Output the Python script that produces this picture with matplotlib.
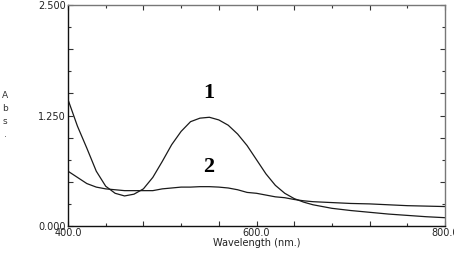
import matplotlib
matplotlib.use("Agg")
import matplotlib.pyplot as plt

wavelength = [400, 410, 420, 430, 440, 450, 460, 470, 480, 490, 500, 510, 520, 530,
              540, 550, 560, 570, 580, 590, 600, 610, 620, 630, 640, 650, 660, 680,
              700, 720, 740, 760, 780, 800]
abs_1 = [1.43, 1.13, 0.88, 0.62, 0.45, 0.37, 0.34, 0.36, 0.42, 0.55, 0.73, 0.92, 1.07, 1.18,
         1.22, 1.23, 1.20, 1.14, 1.04, 0.91, 0.75, 0.59, 0.46, 0.37, 0.31, 0.27, 0.24, 0.20,
         0.175, 0.155, 0.135, 0.12, 0.105, 0.094]
abs_2 = [0.62, 0.55, 0.48, 0.44, 0.42, 0.41, 0.40, 0.40, 0.40, 0.40, 0.42, 0.43, 0.44, 0.44,
         0.445, 0.445, 0.44, 0.43, 0.41, 0.38, 0.37, 0.35, 0.33, 0.32, 0.30, 0.285, 0.275, 0.265,
         0.255, 0.25, 0.24, 0.23, 0.225, 0.22]

x_major = [400, 480, 560, 600, 640, 720, 800]
x_major_labels = ["400.0", "", "", "600.0", "", "", "800.0"]
x_minor = [440, 520, 680, 760]
y_major = [0.0, 0.5, 1.0, 1.25, 1.5, 2.0, 2.5]
y_major_labels = ["0.000", "", "", "1.250", "", "", "2.500"]
y_minor = [0.25, 0.75, 1.75, 2.25]

fig = plt.figure(figsize=(4.54, 2.54), dpi=100)
ax = fig.add_axes([68/454, 28/254, 377/454, 221/254])

ax.plot(wavelength, abs_1, color="#1a1a1a", lw=0.9)
ax.plot(wavelength, abs_2, color="#1a1a1a", lw=0.9)

ax.set_xlim(400, 800)
ax.set_ylim(0, 2.5)

ax.set_xticks(x_major)
ax.set_xticklabels(x_major_labels)
ax.set_xticks(x_minor, minor=True)
ax.set_yticks(y_major)
ax.set_yticklabels(y_major_labels)
ax.set_yticks(y_minor, minor=True)

ax.tick_params(which="both", direction="in", top=True, right=True, colors="#333333",
               labelsize=7, labelcolor="#222222", pad=1.5)
ax.tick_params(which="major", length=3.5, width=0.8)
ax.tick_params(which="minor", length=2, width=0.8)

for side in ["top", "right"]:
    ax.spines[side].set_color("#777777")
for side in ["left", "bottom"]:
    ax.spines[side].set_color("#111111")
for s in ax.spines.values():
    s.set_linewidth(1.0)

ax.set_xlabel("Wavelength (nm.)", fontsize=7, color="#222222", labelpad=0)
fig.text(5/454, 1 - 115/254, "A\nb\ns\n.", fontsize=6.5, ha="center", va="center",
         color="#333333", linespacing=1.55)

ax.text(549, 1.50, "1", fontsize=16, fontweight="bold", family="Liberation Serif",
        ha="center", va="center")
ax.text(549, 0.67, "2", fontsize=16, fontweight="bold", family="Liberation Serif",
        ha="center", va="center")

fig.savefig("out.png", dpi=100)
